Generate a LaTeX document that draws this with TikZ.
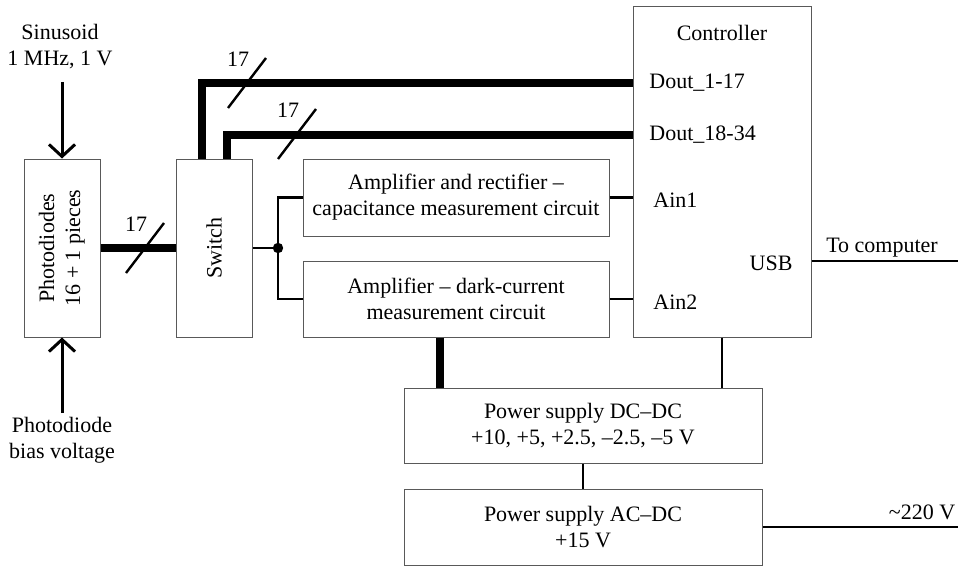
\documentclass[tikz,border=0pt]{standalone}
\usepackage{fontspec}
\setmainfont{Liberation Serif}
\usetikzlibrary{arrows.meta}

\begin{document}
\begin{tikzpicture}[x=0.5pt,y=-0.5pt,line width=0.8pt,>={Straight Barb[length=6pt,width=13pt]},
  font=\fontsize{11}{13}\selectfont]
\tikzset{box/.style={draw=black!65,line width=0.5pt,inner sep=0pt,align=center},
  wire/.style={line width=1.3pt},
  bus/.style={line width=4pt},
  pwr/.style={line width=3.6pt},
  tick/.style={line width=1.2pt},
  sig/.style={line width=1.5pt,->}}
\useasboundingbox (0,0) rectangle (958,567);
% ================= blocks =================
\node[box,minimum width=38pt,minimum height=89pt] (pd) at (62,248)
  {\rotatebox{90}{\begin{tabular}{@{}c@{}}Photodiodes\\16 + 1 pieces\end{tabular}}};
\node[box,minimum width=38pt,minimum height=89pt] (sw) at (214,248) {\rotatebox{90}{Switch}};
\node[box,minimum width=153pt,minimum height=38.5pt] (amp1) at (456,197.5)
  {Amplifier and rectifier --\\capacitance measurement circuit};
\node[box,minimum width=153pt,minimum height=38pt] (amp2) at (456,299)
  {Amplifier -- dark-current\\measurement circuit};
\node[box,minimum width=89pt,minimum height=165pt] (ctrl) at (722,172) {};
\node[box,minimum width=179pt,minimum height=37.5pt] (dcdc) at (583,425.5)
  {Power supply DC--DC\\+10, +5, +2.5, --2.5, --5 V};
\node[box,minimum width=179pt,minimum height=38pt] (acdc) at (583,527)
  {Power supply AC--DC\\+15 V};
% controller pins
\node (ctl) at (722,33) {Controller};
\node[anchor=west] (d1) at (642,83) {Dout\_1-17};
\node[anchor=west] (d2) at (642,135) {Dout\_18-34};
\node[anchor=west] (a1) at (646,200) {Ain1};
\node[anchor=west] (a2) at (646,302) {Ain2};
\node[anchor=east] (usb) at (800,263) {USB};
% ================= inputs =================
\node[align=center] (sinlbl) at (60,47) {Sinusoid\\1 MHz, 1 V};
\node[align=center] (bias) at (62,440) {Photodiode\\bias voltage};
\coordinate (sin) at (62,82);
\coordinate (bv) at (62,413);
\draw[sig] (sin) -- (pd.north);
\draw[sig] (bv) -- (pd.south);
% ================= buses =================
\draw[bus] (pd.east) -- (sw.west);
\draw[bus] ([xshift=-6pt]sw.north) |- (ctrl.west |- d1);
\draw[bus] ([xshift=6.5pt]sw.north) |- (ctrl.west |- d2);
\coordinate (t1) at (145,248);
\coordinate (t2) at (247,83);
\coordinate (t3) at (297,134);
\foreach \t/\n in {t1/n1,t2/n2,t3/n3}{
  \draw[tick] (\t) ++(-19,25) -- ++(38,-50);
  \node (\n) at ([shift={(-9,-24)}]\t) {17};}
% ================= analog path =================
\coordinate (j) at (278,248);
\draw[wire] (sw.east) -- (j);
\draw[wire] (amp1.west) -| (j) |- (amp2.west);
\fill (j) circle (2.6pt);
\draw[wire] (amp1.east) -- (amp1.east -| ctrl.west);
\draw[wire] (amp2.east) -- (amp2.east -| ctrl.west);
% ================= USB and power =================
\coordinate (pc) at (958,261);
\node (pclbl) at (882,248) {To computer};
\draw[wire] (ctrl.east |- pc) -- (pc);
\draw[pwr] ([xshift=-8pt]amp2.south) -- ([xshift=-8pt]amp2.south |- dcdc.north);
\draw[wire] (ctrl.south) -- (ctrl.south |- dcdc.north);
\draw[wire] (dcdc.south) -- (acdc.north);
\coordinate (mains) at (958,527);
\node (mlbl) at (922,512) {\textasciitilde 220 V};
\draw[wire] (acdc.east) -- (mains);
\end{tikzpicture}
\end{document}
